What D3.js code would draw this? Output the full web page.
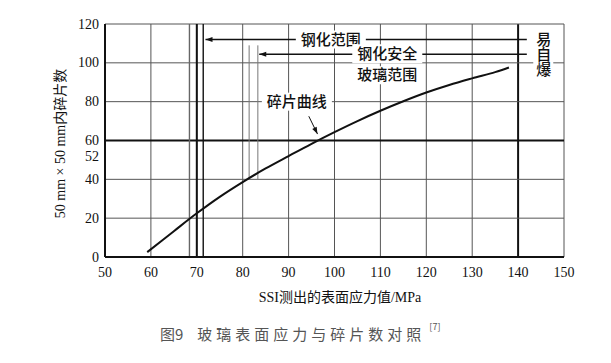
<!DOCTYPE html>
<html>
<head>
<meta charset="utf-8">
<script src="https://cdn.jsdelivr.net/npm/d3@7"></script>
<style>
  body { margin: 0; background: #fff; }
  svg { display: block; }
  .tick-label { font-family: "Liberation Serif", "DejaVu Serif", serif; font-size: 14px; fill: #111; }
  .cn { font-family: "Liberation Serif", "Noto Sans CJK SC", serif; fill: #111; }
</style>
</head>
<body>
<div id="vis"></div>
<script>
// chart data
const xTicks = [50, 60, 70, 80, 90, 100, 110, 120, 130, 140, 150];
const yTicks = [0, 20, 40, 52, 60, 80, 100, 120];
const yGrid = [0, 20, 40, 60, 80, 100, 120];
const stress = [59.2, 65, 70, 75, 80, 85, 90, 95, 100, 105, 110, 115, 120, 125, 130, 135, 138];
const fragments = [2.5, 13.3, 22.5, 31, 38.6, 45.6, 52, 58.3, 64.3, 70, 75.3, 80.2, 84.7, 88.6, 92, 95.2, 97.6];
const temperedLines = [68.4, 70, 71.4];   // 钢化范围 borders
const safeLines = [81.4, 83.3];           // 钢化安全玻璃范围 borders
const safeSpan = [40, 109];

const width = 611, height = 363;
const margins = {top: 24, right: 47, bottom: 106, left: 105};

const xScale = d3.scaleLinear().domain([50, 150]).range([margins.left, width - margins.right]);
const yScale = d3.scaleLinear().domain([0, 120]).range([height - margins.bottom, margins.top]);

const svg = d3.select('#vis').append('svg').attr('width', width).attr('height', height);

svg.append('defs').append('marker')
    .attr('id', 'arrow').attr('viewBox', '0 0 10 10')
    .attr('refX', 10).attr('refY', 5)
    .attr('markerWidth', 9).attr('markerHeight', 7)
    .attr('markerUnits', 'userSpaceOnUse')
    .attr('orient', 'auto')
    .append('path').attr('d', 'M0,1.5 L10,5 L0,8.5 Z').attr('fill', '#111');

const grid = svg.append('g').attr('class', 'grid');

// vertical grid
grid.selectAll('line.vx').data(xTicks.slice(1)).enter().append('line')
    .attr('x1', d => xScale(d)).attr('x2', d => xScale(d))
    .attr('y1', yScale(0)).attr('y2', yScale(120))
    .attr('stroke', d => d === 140 ? '#111' : '#555')
    .attr('stroke-width', d => d === 140 ? 2 : 1);

// horizontal grid
grid.selectAll('line.hy').data(yGrid.slice(1)).enter().append('line')
    .attr('x1', xScale(50)).attr('x2', xScale(150))
    .attr('y1', d => yScale(d)).attr('y2', d => yScale(d))
    .attr('stroke', d => d === 60 ? '#111' : '#555')
    .attr('stroke-width', d => d === 60 ? 2 : 1);

// range boundary lines
grid.selectAll('line.temp').data(temperedLines).enter().append('line')
    .attr('x1', d => xScale(d)).attr('x2', d => xScale(d))
    .attr('y1', yScale(0)).attr('y2', yScale(120))
    .attr('stroke', (d, i) => i === 0 ? '#666' : '#111')
    .attr('stroke-width', (d, i) => i === 1 ? 2 : 1.4);

grid.selectAll('line.safe').data(safeLines).enter().append('line')
    .attr('x1', d => xScale(d)).attr('x2', d => xScale(d))
    .attr('y1', yScale(safeSpan[0])).attr('y2', yScale(safeSpan[1]))
    .attr('stroke', '#777').attr('stroke-width', 1);

// axes lines
svg.append('line').attr('x1', xScale(50)).attr('x2', xScale(50))
    .attr('y1', yScale(0)).attr('y2', yScale(120)).attr('stroke', '#111').attr('stroke-width', 2);
svg.append('line').attr('x1', xScale(50)).attr('x2', xScale(150))
    .attr('y1', yScale(0)).attr('y2', yScale(0)).attr('stroke', '#111').attr('stroke-width', 2);

// range arrows
const arrows = [
    {y: 112, from: 141.9, to: 71.9},
    {y: 104.4, from: 141.9, to: 83.6}
];
svg.selectAll('line.arrow').data(arrows).enter().append('line')
    .attr('x1', d => xScale(d.from)).attr('x2', d => xScale(d.to))
    .attr('y1', d => yScale(d.y)).attr('y2', d => yScale(d.y))
    .attr('stroke', '#111').attr('stroke-width', 1.4)
    .attr('marker-end', 'url(#arrow)');

// fragment curve
const line = d3.line().x(d => xScale(d[0])).y(d => yScale(d[1])).curve(d3.curveCatmullRom);
svg.append('path').datum(d3.zip(stress, fragments))
    .attr('d', line).attr('fill', 'none').attr('stroke', '#111').attr('stroke-width', 2);

// labels with white backgrounds
function label(txt, x, y, size) {
    const g = svg.append('g');
    const t = g.append('text').attr('class', 'cn')
        .attr('x', x).attr('y', y)
        .attr('text-anchor', 'middle').attr('dominant-baseline', 'central')
        .style('font-size', size + 'px').style('font-weight', 500).text(txt);
    const b = t.node().getBBox();
    g.insert('rect', 'text').attr('x', b.x - 5).attr('y', b.y - 1)
        .attr('width', b.width + 10).attr('height', b.height + 2).attr('fill', '#fff');
    return g;
}
label('钢化范围', xScale(99.2), yScale(112), 15);
label('钢化安全', xScale(111.5), yScale(104.4), 15);
label('玻璃范围', xScale(111.5), yScale(93.6), 15);
label('碎片曲线', xScale(91.8), yScale(80), 15);

// vertical label at right
const yb = svg.append('g');
yb.append('rect').attr('x', xScale(143.3)).attr('y', yScale(116))
    .attr('width', 20).attr('height', 56).attr('fill', '#fff');
['易', '自', '爆'].forEach((c, i) => {
    yb.append('text').attr('class', 'cn')
        .attr('x', xScale(145.6)).attr('y', yScale(112) + i * 15)
        .attr('text-anchor', 'middle').attr('dominant-baseline', 'central')
        .style('font-size', '15px').style('font-weight', 500).text(c);
});

// pointer for curve label
svg.append('line')
    .attr('x1', xScale(94.4)).attr('y1', yScale(72.5))
    .attr('x2', xScale(96.3)).attr('y2', yScale(63.3))
    .attr('stroke', '#111').attr('stroke-width', 1)
    .attr('marker-end', 'url(#arrow)');

// tick labels
svg.selectAll('text.xt').data(xTicks).enter().append('text')
    .attr('class', 'tick-label')
    .attr('x', d => xScale(d)).attr('y', yScale(0) + 15)
    .attr('text-anchor', 'middle').attr('dominant-baseline', 'central')
    .text(d => d);
svg.selectAll('text.yt').data(yTicks).enter().append('text')
    .attr('class', 'tick-label')
    .attr('x', xScale(50) - 6).attr('y', d => yScale(d))
    .attr('text-anchor', 'end').attr('dominant-baseline', 'central')
    .text(d => d);

// axis titles
svg.append('text').attr('class', 'cn')
    .attr('transform', `translate(60, ${yScale(60) + 3}) rotate(-90)`)
    .attr('text-anchor', 'middle').attr('dominant-baseline', 'central')
    .style('font-size', '14px').text('50 mm × 50 mm内碎片数');
svg.append('text').attr('class', 'cn')
    .attr('x', 340).attr('y', 297)
    .attr('text-anchor', 'middle').attr('dominant-baseline', 'central')
    .style('font-size', '14px').text('SSI测出的表面应力值/MPa');

// caption
const cap = svg.append('text').attr('x', 160).attr('y', 333)
    .attr('dominant-baseline', 'central')
    .style('font-family', '"Noto Sans CJK SC", sans-serif').style('font-size', '15px')
    .style('fill', '#555');
cap.append('tspan').text('图9');
cap.append('tspan').attr('dx', 14).style('letter-spacing', '4px').text('玻璃表面应力与碎片数对照');
cap.append('tspan').attr('dx', 4).attr('dy', -7).style('font-size', '9px').text('[7]');
</script>
</body>
</html>
